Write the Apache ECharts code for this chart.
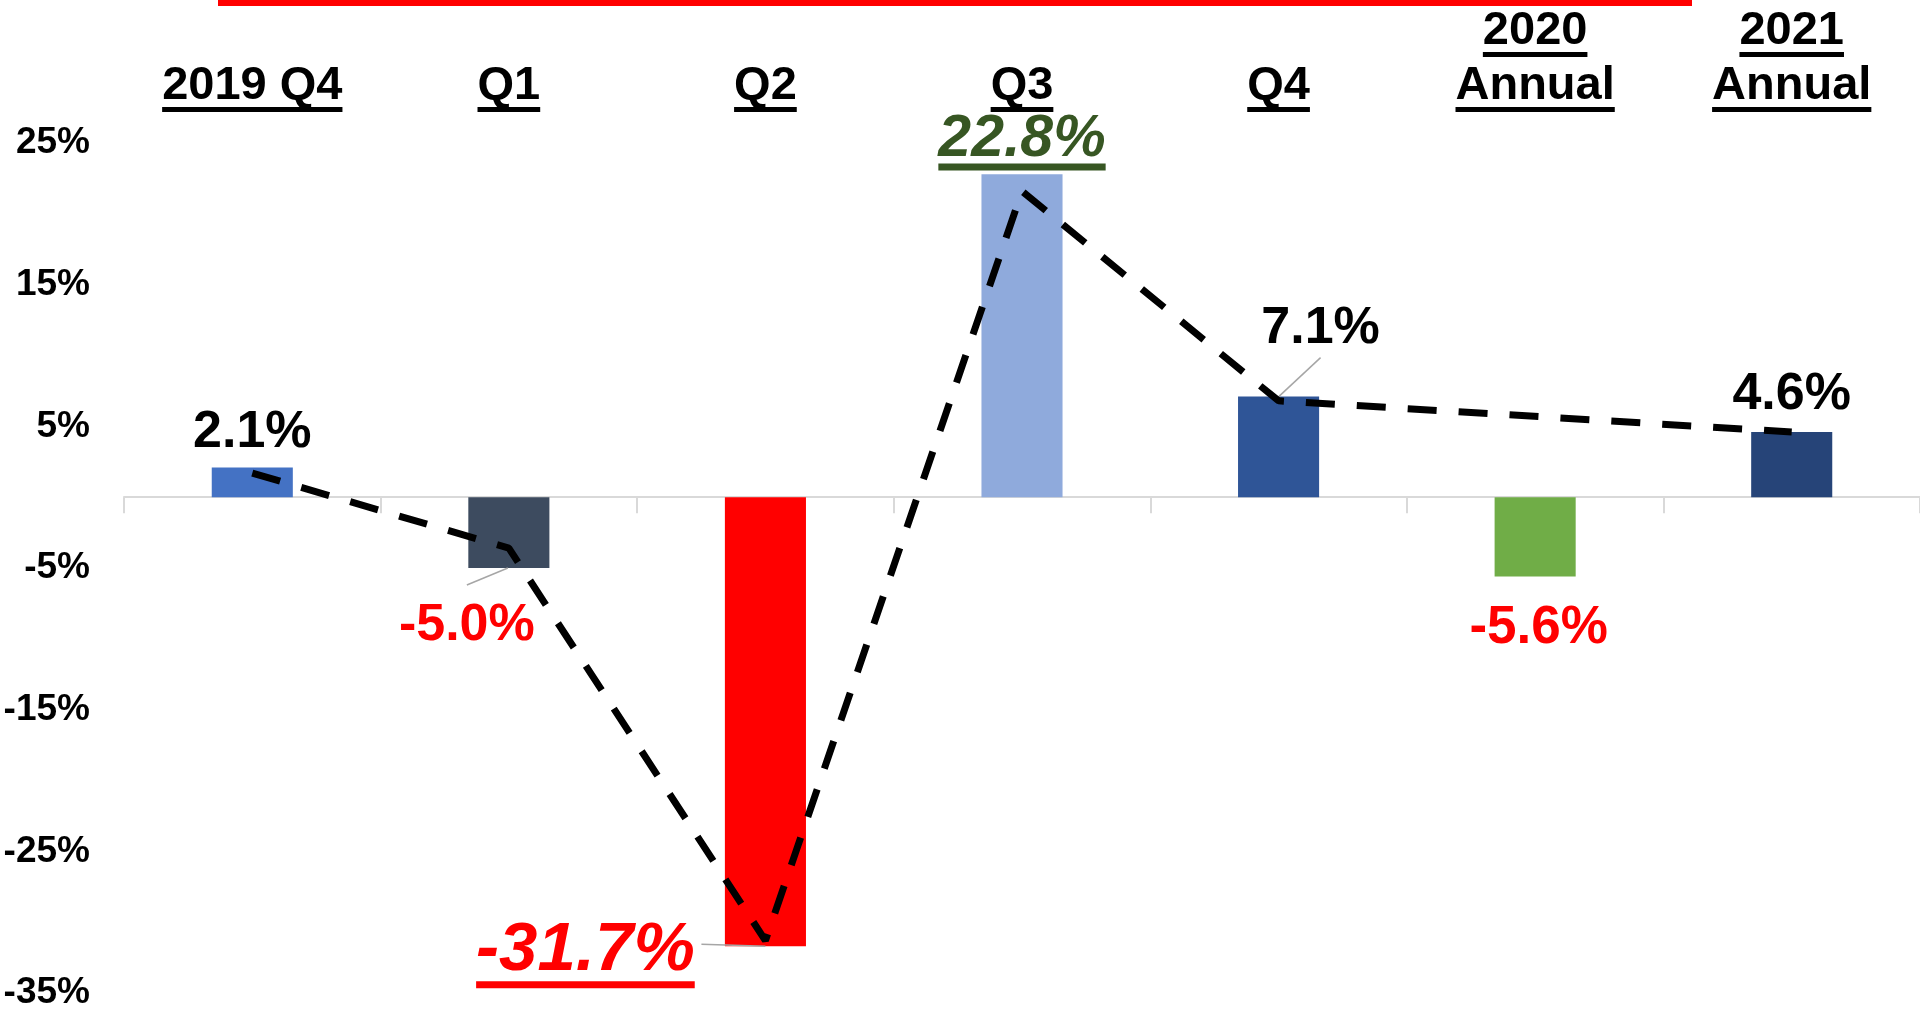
<!DOCTYPE html>
<html>
<head>
<meta charset="utf-8">
<title>GDP growth, quarterly and annual</title>
<script src="https://cdn.jsdelivr.net/npm/echarts@6/dist/echarts.min.js"></script>
<style>
  html, body { margin: 0; padding: 0; background: #ffffff; }
  #chart { width: 1920px; height: 1014px; }
</style>
</head>
<body>
<div id="chart"></div>
<script>
// ---- data ----
const categories = ['2019 Q4', 'Q1', 'Q2', 'Q3', 'Q4', '2020\nAnnual', '2021\nAnnual'];
const growthValues = [2.1, -5.0, -31.7, 22.8, 7.1, -5.6, 4.6];
const trendValues = [1.7, -3.6, -31.3, 21.6, 6.8, null, 4.6];
const yTickMin = -35;
const yTickMax = 25;
const yTickStep = 10;

// ---- styles ----
const FONT = '"Liberation Sans", Arial, Helvetica, sans-serif';
const barColors = ['#4472C4', '#3D4B5F', '#FF0000', '#8FAADC', '#2F5597', '#70AD47', '#264478'];
const labelLook = [
  { color: '#000000', size: 52 },
  { color: '#FF0000', size: 52 },
  { color: '#FF0000', size: 69, italic: true, underline: true, gap: 6 },
  { color: '#375623', size: 59, italic: true, underline: true, gap: 3 },
  { color: '#000000', size: 52 },
  { color: '#FF0000', size: 53 },
  { color: '#000000', size: 52 }
];
// label centre relative to the bar end (top for gains, bottom for losses)
const labelPlacement = [
  { dx: 0, dy: -35 },
  { dx: -42, dy: 58 },
  { dx: -180, dy: 5 },
  { dx: 0, dy: -34 },
  { dx: 42, dy: -68 },
  { dx: 3.5, dy: 52 },
  { dx: 0, dy: -37 }
];
// leader lines: [from, to] relative to the bar end
const leaderLines = {
  1: [[-1, 0], [-42, 17]],
  2: [[0, 0], [-64, -2]],
  4: [[-2, 2], [42, -39]]
};
const UNDERLINE_LABEL = 7;
const CAT_SIZE = 47;
const CAT_UNDERLINE = 5;
const CAT_GAP = 5;

const measureCtx = document.createElement('canvas').getContext('2d');
function textWidth(text, font) {
  measureCtx.font = font;
  return measureCtx.measureText(text).width;
}
function fmtPct(v) {
  return v.toFixed(1) + '%';
}

// ---- category labels on top, each word underlined ----
const catFont = 'bold ' + CAT_SIZE + 'px ' + FONT;
const catLineHeight = 2 * (CAT_GAP + 0.3465 * CAT_SIZE);
const catRich = {
  t: { fontSize: CAT_SIZE, fontWeight: 'bold', fontFamily: FONT, color: '#000', lineHeight: catLineHeight, align: 'center' },
  g: { height: 55 - catLineHeight - CAT_UNDERLINE, lineHeight: 55 - catLineHeight - CAT_UNDERLINE, align: 'center' }
};
categories.forEach(function (c, i) {
  c.split('\n').forEach(function (part, j) {
    catRich['u' + i + '_' + j] = {
      width: textWidth(part, catFont), height: CAT_UNDERLINE, lineHeight: CAT_UNDERLINE,
      backgroundColor: '#000', align: 'center'
    };
  });
});
function catFormatter(value, index) {
  return value.split('\n').map(function (part, j) {
    return '{t|' + part + '}\n{u' + index + '_' + j + '|}';
  }).join('\n{g|}\n');
}

// ---- bar data with per-bar labels ----
const barData = growthValues.map(function (v, i) {
  const look = labelLook[i];
  const place = labelPlacement[i];
  const font = (look.italic ? 'italic ' : '') + 'bold ' + look.size + 'px ' + FONT;
  const txt = fmtPct(v);
  const label = {
    show: true,
    position: ['50%', v >= 0 ? '0%' : '100%'],
    align: 'center',
    verticalAlign: 'middle',
    fontFamily: FONT,
    fontWeight: 'bold',
    fontStyle: look.italic ? 'italic' : 'normal',
    fontSize: look.size,
    lineHeight: look.size,
    color: look.color,
    offset: [place.dx, place.dy]
  };
  if (look.underline) {
    const lh = 2 * (look.gap + 0.3465 * look.size);
    label.formatter = '{t|' + txt + '}\n{u|}';
    label.rich = {
      t: { fontFamily: FONT, fontWeight: 'bold', fontStyle: 'italic', fontSize: look.size, lineHeight: lh, color: look.color, align: 'center' },
      u: { width: textWidth(txt, font), height: UNDERLINE_LABEL, lineHeight: UNDERLINE_LABEL, backgroundColor: look.color, align: 'center' }
    };
    label.offset = [place.dx, place.dy + UNDERLINE_LABEL / 2];
  } else {
    label.formatter = txt;
  }
  return { value: v, itemStyle: { color: barColors[i] }, label: label };
});

const leaderData = Object.keys(leaderLines).map(function (k) {
  const i = Number(k);
  return [i, growthValues[i]];
});

const chart = echarts.init(document.getElementById('chart'), null, { renderer: 'canvas' });
chart.setOption({
  backgroundColor: '#ffffff',
  animation: false,
  grid: { left: 124, right: 0, top: 143, bottom: 21, containLabel: false },
  xAxis: [
    {
      type: 'category',
      data: categories,
      position: 'bottom',
      boundaryGap: true,
      axisLine: { show: true, onZero: true, lineStyle: { color: '#D9D9D9', width: 2 } },
      axisTick: { show: true, length: 16, lineStyle: { color: '#D9D9D9', width: 2 } },
      axisLabel: { show: false },
      splitLine: { show: false }
    },
    {
      type: 'category',
      data: categories,
      position: 'top',
      axisLine: { show: false, onZero: false },
      axisTick: { show: false },
      splitLine: { show: false },
      axisLabel: {
        show: true,
        interval: 0,
        margin: 31,
        formatter: catFormatter,
        rich: catRich
      }
    }
  ],
  yAxis: {
    type: 'value',
    min: yTickMin,
    max: yTickMax,
    interval: yTickStep,
    axisLine: { show: false },
    axisTick: { show: false },
    splitLine: { show: false },
    axisLabel: {
      formatter: '{value}%',
      fontFamily: FONT,
      fontWeight: 'bold',
      fontSize: 37,
      color: '#000000',
      margin: 34,
      padding: [10, 0, 0, 0]
    }
  },
  series: [
    {
      name: 'Growth',
      type: 'bar',
      barWidth: '31.6%',
      data: barData,
      z: 2
    },
    {
      name: 'Leaders',
      type: 'custom',
      coordinateSystem: 'cartesian2d',
      data: leaderData,
      z: 3,
      renderItem: function (params, api) {
        const idx = api.value(0);
        const end = api.coord([idx, api.value(1)]);
        const seg = leaderLines[idx];
        return {
          type: 'line',
          shape: {
            x1: end[0] + seg[0][0], y1: end[1] + seg[0][1],
            x2: end[0] + seg[1][0], y2: end[1] + seg[1][1]
          },
          style: { stroke: '#A6A6A6', lineWidth: 1.5 }
        };
      }
    },
    {
      name: 'Trend',
      type: 'line',
      data: trendValues,
      connectNulls: true,
      symbol: 'none',
      z: 4,
      lineStyle: { color: '#000000', width: 7, type: [29, 22] }
    }
  ],
  graphic: [
    {
      type: 'line',
      shape: { x1: 218, y1: 3, x2: 1692, y2: 3 },
      style: { stroke: '#FF0000', lineWidth: 6 },
      silent: true
    }
  ]
});
</script>
</body>
</html>
